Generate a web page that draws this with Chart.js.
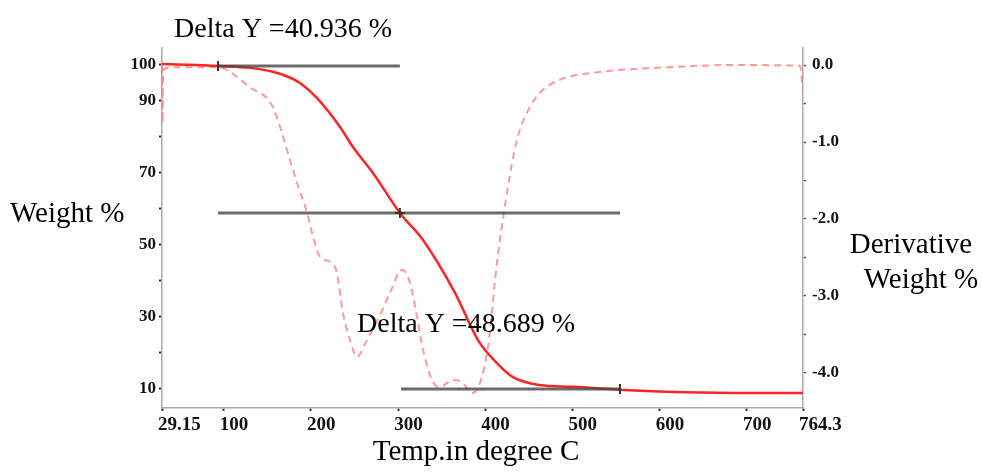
<!DOCTYPE html>
<html>
<head>
<meta charset="utf-8">
<script src="https://cdn.jsdelivr.net/npm/chart.js@4.4.1/dist/chart.umd.min.js"></script>
<style>
  html, body { margin: 0; padding: 0; background: #fff; }
  #wrap { width: 982px; height: 475px; }
</style>
</head>
<body>
<div id="wrap"><canvas id="myChart" width="982" height="475"></canvas></div>
<script>
// weight % curve (left axis)
const tempWeight = [29.15, 60, 95.7, 130, 156.4, 175, 187.4, 207, 233.3, 248.2, 271.1, 302, 328.5, 365.2, 391.5, 413.3, 431.7, 462.6, 500.5, 554.4, 608.3, 684, 764.3];
const weightPct  = [100.3, 100.1, 99.7, 99.2, 98.1, 96.6, 95, 90.8, 82.8, 77.2, 70, 58.9, 51.4, 36.7, 23.6, 17.2, 13.3, 11.1, 10.6, 9.8, 9.2, 8.9, 8.9];

// derivative weight % curve (right axis)
const tempDeriv = [29.15, 29.6, 30.6, 40, 95.7, 107.1, 130, 153, 161, 172.5, 184, 195.5, 202.3, 210.3, 224, 229.8, 236.7, 244.7, 252.8, 264.2, 279.1, 290.6, 304.4, 313.6, 321.6, 328.5, 340, 348, 362.9, 373.2, 384.7, 393.8, 403, 413.3, 424.8, 436.3, 447.7, 462.6, 485.6, 531.5, 608.3, 684, 760.8, 764.3];
const derivPct  = [-0.02, -0.75, -0.06, -0.03, -0.03, -0.09, -0.29, -0.48, -0.68, -1.10, -1.53, -1.92, -2.23, -2.49, -2.57, -2.70, -3.22, -3.57, -3.79, -3.57, -3.25, -2.96, -2.66, -2.83, -3.27, -3.70, -4.12, -4.18, -4.09, -4.12, -4.26, -4.13, -3.66, -2.57, -1.66, -0.97, -0.62, -0.36, -0.19, -0.09, -0.03, 0.0, -0.01, -0.32];

// step lines for the Delta Y readings
const step1 = { x: [93.4, 302], y: [99.7, 99.7] };
const step2 = { x: [93.4, 554.4], y: [58.9, 58.9] };
const step3 = { x: [303.3, 554.4], y: [10.0, 10.0] };
const stepMarks = { x: [93.4, 302, 554.4], y: [99.7, 58.9, 10.0] };

const xTicks = [29.15, 100, 200, 300, 400, 500, 600, 700, 764.3];
const leftTicks = [10, 20, 30, 40, 50, 60, 70, 80, 90, 100];
const leftLabels = [10, 30, 50, 70, 90, 100];
const rightTicks = [0, -0.5, -1, -1.5, -2, -2.5, -3, -3.5, -4];

const deltaLabels = ['Delta Y =40.936 %', 'Delta Y =48.689 %'];
const xTitle = 'Temp.in degree C';
const yTitle = 'Weight %';
const y2Title = ['Derivative', 'Weight %'];

const serif = '"Liberation Serif", "Times New Roman", serif';
const pts = (xs, ys) => xs.map((x, i) => ({ x: x, y: ys[i] }));

const textPlugin = {
    id: 'texts',
    afterDraw(chart) {
        const ctx = chart.ctx;
        ctx.save();
        ctx.fillStyle = '#000';
        ctx.textBaseline = 'alphabetic';
        ctx.font = '28px ' + serif;
        ctx.textAlign = 'left';
        ctx.fillText(deltaLabels[0], 174, 37);
        ctx.fillText(deltaLabels[1], 357, 332);
        ctx.font = '29px ' + serif;
        ctx.fillText(yTitle, 10, 222);
        ctx.textAlign = 'center';
        ctx.fillText(xTitle, 476, 460);
        ctx.fillText(y2Title[0], 911, 253);
        ctx.fillText(y2Title[1], 921, 288);
        ctx.restore();
    }
};

const chart = new Chart(document.getElementById('myChart'), {
    type: 'line',
    plugins: [textPlugin],
    data: {
        datasets: [
            {
                data: pts(stepMarks.x, stepMarks.y),
                yAxisID: 'y',
                showLine: false,
                pointStyle: ['line', 'cross', 'line'],
                rotation: 90,
                pointRadius: 5,
                pointBorderColor: '#333',
                pointBorderWidth: 2
            },
            { data: pts(step1.x, step1.y), yAxisID: 'y', borderColor: 'rgba(70,70,70,0.8)', borderWidth: 3, pointRadius: 0 },
            { data: pts(step2.x, step2.y), yAxisID: 'y', borderColor: 'rgba(70,70,70,0.8)', borderWidth: 3, pointRadius: 0 },
            { data: pts(step3.x, step3.y), yAxisID: 'y', borderColor: 'rgba(70,70,70,0.8)', borderWidth: 3, pointRadius: 0 },
            {
                data: pts(tempWeight, weightPct),
                yAxisID: 'y',
                borderColor: '#ff2424',
                borderWidth: 2.5,
                pointRadius: 0,
                cubicInterpolationMode: 'monotone'
            },
            {
                data: pts(tempDeriv, derivPct),
                yAxisID: 'y2',
                borderColor: 'rgba(255,110,110,0.7)',
                borderWidth: 2,
                borderDash: [7, 5],
                pointRadius: 0,
                cubicInterpolationMode: 'monotone'
            }
        ]
    },
    options: {
        responsive: false,
        animation: false,
        layout: { padding: { top: 48, left: 0, right: 0, bottom: 0 } },
        plugins: {
            legend: { display: false },
            tooltip: { enabled: false }
        },
        scales: {
            x: {
                type: 'linear',
                min: 29.15,
                max: 764.3,
                afterBuildTicks: (s) => { s.ticks = xTicks.map(v => ({ value: v })); },
                afterFit: (s) => { s.height = 67; },
                border: { color: '#aaa', width: 1.5 },
                grid: { drawOnChartArea: false, tickColor: '#333', tickWidth: 2, tickLength: 3 },
                ticks: {
                    autoSkip: false,
                    maxRotation: 0,
                    align: 'start',
                    labelOffset: -4,
                    padding: 3,
                    color: '#111',
                    font: { family: serif, size: 19, weight: 'bold' },
                    callback: (v) => String(v)
                }
            },
            y: {
                position: 'left',
                min: 4.72,
                max: 104.72,
                afterBuildTicks: (s) => { s.ticks = leftTicks.map(v => ({ value: v })); },
                afterFit: (s) => { s.width = 162; },
                border: { color: '#aaa', width: 1.5 },
                grid: { drawOnChartArea: false, tickColor: '#333', tickWidth: 2, tickLength: 3 },
                ticks: {
                    padding: 3,
                    color: '#111',
                    font: { family: serif, size: 17, weight: 'bold' },
                    callback: (v) => leftLabels.includes(v) ? String(v) : ''
                }
            },
            y2: {
                position: 'right',
                min: -4.455,
                max: 0.221,
                afterBuildTicks: (s) => { s.ticks = rightTicks.map(v => ({ value: v })); },
                afterFit: (s) => { s.width = 179; },
                border: { color: '#aaa', width: 1.5 },
                grid: { drawOnChartArea: false, tickColor: '#555', tickWidth: 1.5, tickLength: 3 },
                ticks: {
                    padding: 6,
                    color: '#111',
                    font: { family: serif, size: 17, weight: 'bold' },
                    callback: (v) => Number.isInteger(v) ? v.toFixed(1) : ''
                }
            }
        }
    }
});
</script>
</body>
</html>
